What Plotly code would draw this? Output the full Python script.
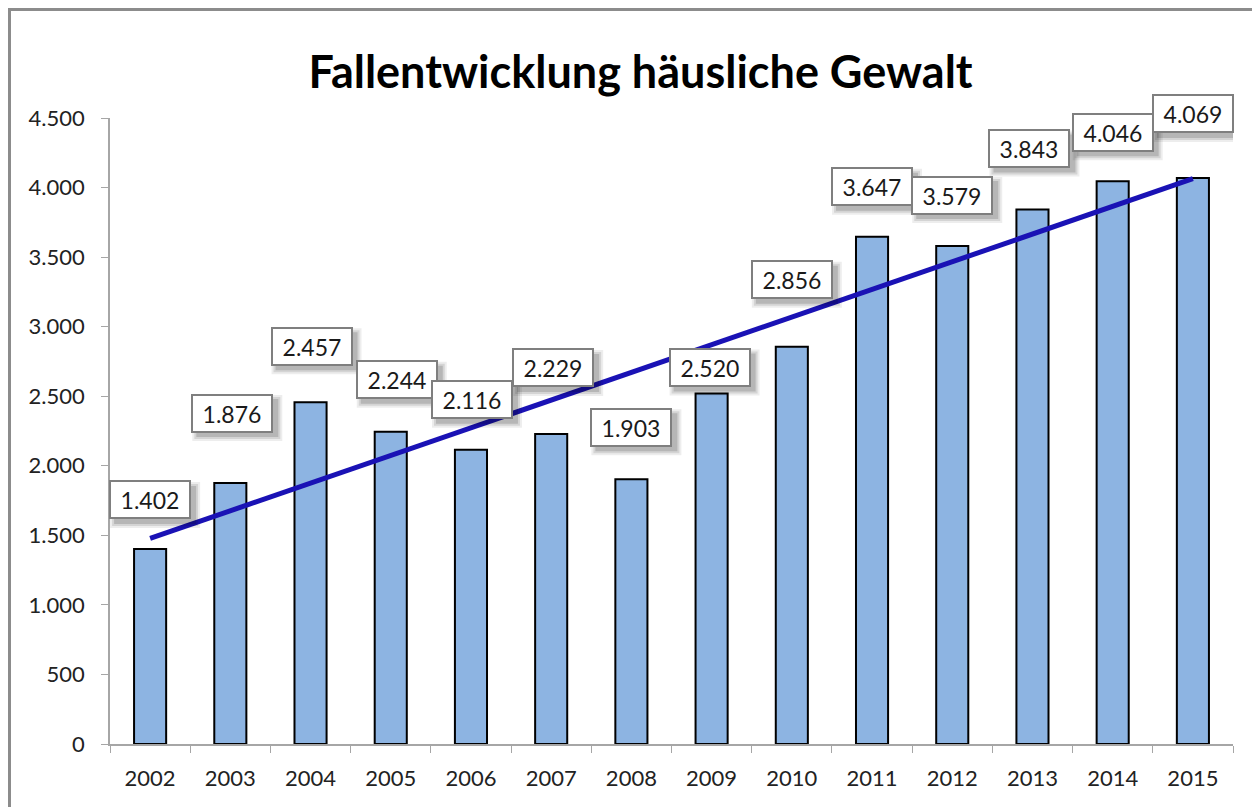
import numpy as np
import plotly.graph_objects as go

years = ["2002", "2003", "2004", "2005", "2006", "2007", "2008",
         "2009", "2010", "2011", "2012", "2013", "2014", "2015"]
cases = [1402, 1876, 2457, 2244, 2116, 2229, 1903,
         2520, 2856, 3647, 3579, 3843, 4046, 4069]
labels = ["1.402", "1.876", "2.457", "2.244", "2.116", "2.229", "1.903",
          "2.520", "2.856", "3.647", "3.579", "3.843", "4.046", "4.069"]
y_tickvals = [0, 500, 1000, 1500, 2000, 2500, 3000, 3500, 4000, 4500]
y_ticktext = ["0", "500", "1.000", "1.500", "2.000", "2.500", "3.000", "3.500", "4.000", "4.500"]

# label offsets above bar tops (pixels) - styling
label_yshift = [49, 70, 56, 52, 50, 66, 52, 26, 67, 50, 51, 61, 49, 64]
label_xshift = [0, 2, 1, 6, 1, 2, 0, -2, 0, 0, 0, -3, 0, 0]

# linear trend (as Excel trendline)
xi = np.arange(len(cases))
slope, intercept = np.polyfit(xi, cases, 1)
trend = (slope * xi + intercept).tolist()

fig = go.Figure()
fig.add_trace(go.Bar(
    x=years, y=cases,
    marker=dict(color="#8DB4E2", line=dict(color="#000000", width=2)),
    width=0.4, showlegend=False, hoverinfo="x+y",
))
fig.add_trace(go.Scatter(
    x=years, y=trend, mode="lines",
    line=dict(color="#1A12B5", width=5),
    showlegend=False, hoverinfo="skip",
))

font_family = "Lato, 'Open Sans', sans-serif"
annotations = []
shapes = [dict(type="rect", xref="paper", yref="paper",
               x0=-0.0895, x1=1.2, y0=-0.3, y1=1.1733,
               line=dict(color="#8c8c8c", width=3), layer="below")]
for i, (v, t, ys, xs) in enumerate(zip(cases, labels, label_yshift, label_xshift)):
    # soft drop shadow behind each label box
    for grow, alpha in ((5, 0.07), (3, 0.10), (1, 0.14)):
        shapes.append(dict(
            type="rect", xref="x", yref="y",
            xsizemode="pixel", ysizemode="pixel", xanchor=i, yanchor=v,
            x0=xs - 40 + 5 - grow, x1=xs + 40 + 5 + grow,
            y0=ys - 18 - 5 - grow, y1=ys + 18 - 5 + grow,
            fillcolor=f"rgba(0,0,0,{alpha})", line=dict(width=0), layer="above",
        ))
    annotations.append(dict(
        x=i, y=v, xref="x", yref="y", text=t, showarrow=False,
        yanchor="middle", xanchor="center",
        yshift=ys, xshift=xs,
        width=76, height=33,
        font=dict(family=font_family, size=23, color="#1a1a1a"),
        bgcolor="#ffffff", bordercolor="#7f7f7f", borderwidth=2,
    ))

fig.update_layout(
    width=1260, height=807,
    margin=dict(l=102, r=35, t=110, b=71, autoexpand=False),
    paper_bgcolor="white", plot_bgcolor="white",
    title=dict(text="<b>Fallentwicklung häusliche Gewalt</b>",
               x=0.502, xanchor="center", y=0.921, yanchor="middle",
               font=dict(family=font_family, size=45, color="#000000")),
    bargap=0.6,
    xaxis=dict(
        type="category", range=[-0.5, 13.5], autorange=False,
        showline=True, linecolor="#a6a6a6", linewidth=1.5,
        ticks="outside", tickson="boundaries", ticklen=7, tickcolor="#a6a6a6",
        tickfont=dict(family=font_family, size=22, color="#222222"),
        ticklabelstandoff=14, showgrid=False, zeroline=False,
        tickangle=0, automargin=False,
    ),
    yaxis=dict(
        range=[0, 4500], autorange=False, tickvals=y_tickvals, ticktext=y_ticktext,
        showline=True, linecolor="#a6a6a6", linewidth=1.5,
        ticks="outside", ticklen=7, tickcolor="#a6a6a6",
        tickfont=dict(family=font_family, size=22, color="#222222"),
        ticklabelstandoff=12, showgrid=False, zeroline=False,
        automargin=False,
    ),
    annotations=annotations,
    shapes=shapes,
)

fig.write_html("out.html")
